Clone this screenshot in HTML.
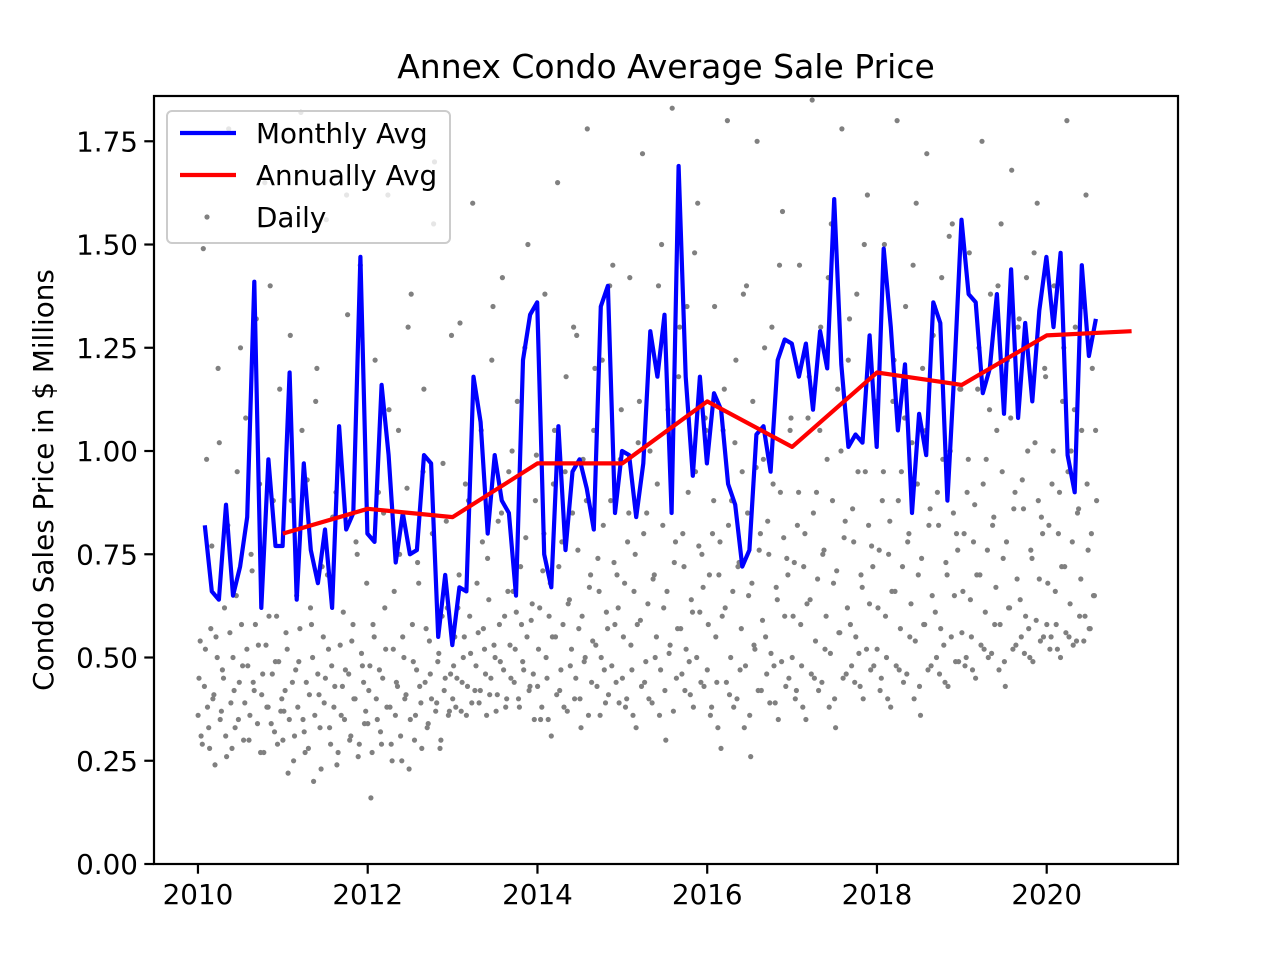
<!DOCTYPE html>
<html><head><meta charset="utf-8"><style>
html,body{margin:0;padding:0;background:#fff;}
svg text{font-family:"DejaVu Sans","Liberation Sans",sans-serif;fill:#000;}
</style></head><body>
<svg id="chart" width="1280" height="960" xmlns="http://www.w3.org/2000/svg">
<rect width="1280" height="960" fill="#fff"/>
<text x="666" y="78" font-size="33" text-anchor="middle">Annex Condo Average Sale Price</text>
<text x="0" y="0" font-size="27.8" text-anchor="middle" transform="translate(53,480) rotate(-90)">Condo Sales Price in $ Millions</text>
<g id="dots"></g>
<g id="lines"></g>
<g id="axes"></g>
<g id="legend">
<rect x="167" y="111" width="283" height="132" rx="5" fill="#fff" fill-opacity="0.8" stroke="#ccc" stroke-width="2"/>
<line x1="180" y1="133" x2="236" y2="133" stroke="#0000ff" stroke-width="4.2"/>
<text x="256" y="143" font-size="27.8">Monthly Avg</text>
<line x1="180" y1="175" x2="236" y2="175" stroke="#ff0000" stroke-width="4.2"/>
<text x="256" y="185" font-size="27.8">Annually Avg</text>
<circle cx="207" cy="217" r="2.6" fill="#808080"/>
<text x="256" y="227" font-size="27.8">Daily</text>
</g>
</svg>
<script>
const monthlyStart = 2010.08;
const monthlyValues = [
0.82,0.66,0.64,0.87,0.65,0.72,0.84,1.41,0.62,0.98,0.77,0.77,
1.19,0.64,0.97,0.76,0.68,0.81,0.62,1.06,0.81,0.85,1.47,0.80,
0.78,1.16,0.99,0.73,0.85,0.75,0.76,0.99,0.97,0.55,0.70,0.53,
0.67,0.66,1.18,1.07,0.80,0.99,0.88,0.85,0.65,1.22,1.33,1.36,
0.75,0.67,1.06,0.76,0.95,0.98,0.91,0.81,1.35,1.40,0.85,1.00,
0.99,0.84,0.97,1.29,1.18,1.33,0.85,1.69,1.18,0.94,1.18,0.97,
1.14,1.10,0.92,0.87,0.72,0.76,1.04,1.06,0.95,1.22,1.27,1.26,
1.18,1.26,1.10,1.29,1.20,1.61,1.21,1.01,1.04,1.02,1.28,1.01,
1.49,1.30,1.05,1.21,0.85,1.09,0.99,1.36,1.31,0.88,1.20,1.56,
1.38,1.36,1.14,1.20,1.38,1.09,1.44,1.08,1.31,1.12,1.34,1.47,
1.30,1.48,0.99,0.90,1.45,1.23,1.32];
const annualYears = [2011,2012,2013,2014,2015,2016,2017,2018,2019,2020,2021];
const annualValues = [0.80,0.86,0.84,0.97,0.97,1.12,1.01,1.19,1.16,1.28,1.29];
const dailyYears = [2010,2011,2012,2013,2014,2015,2016,2017,2018,2019,2020];
const dailySpan = [1,1,1,1,1,1,1,1,1,1,0.6];
const dailyValues = [
[0.45,0.31,1.49,0.52,0.38,0.28,0.77,0.41,0.55,1.20,0.35,0.47,0.62,0.26,1.78,0.39,0.50,0.33,0.95,0.44,0.58,0.30,1.08,0.48,0.36,0.71,0.42,1.32,0.53,0.27,0.46,1.65,0.38,0.60,0.34,0.88,0.49,0.29,1.15,0.40],
[0.37,0.56,0.22,1.28,0.44,0.31,0.65,0.49,1.82,0.35,0.27,0.93,0.41,0.58,0.20,1.12,0.46,0.33,0.72,0.39,1.56,0.52,0.29,0.84,0.43,0.24,1.02,0.36,0.61,0.47,1.33,0.30,0.54,0.40,0.78,0.26,1.45,0.48,0.34,0.68],
[0.42,0.16,0.58,1.22,0.35,0.47,0.29,0.85,0.52,1.62,0.38,0.25,0.66,0.44,1.05,0.31,0.55,0.40,0.91,0.23,1.38,0.49,0.36,0.73,0.43,0.28,1.15,0.57,0.34,0.46,0.80,1.70,0.39,0.51,0.30,0.97,0.45,0.62,0.37,1.28],
[0.48,0.38,0.62,1.31,0.44,0.55,0.36,0.88,0.51,1.60,0.42,0.68,0.39,1.05,0.57,0.46,0.74,0.41,1.22,0.53,0.37,0.83,0.49,1.42,0.60,0.40,0.95,0.45,0.66,0.52,1.12,0.38,0.58,0.47,0.79,1.50,0.43,0.63,0.35,0.99],
[0.52,0.35,0.71,1.38,0.45,0.60,0.31,0.92,0.55,1.65,0.42,0.78,0.38,1.18,0.63,0.48,0.85,0.40,1.28,0.57,0.33,0.98,0.50,1.78,0.67,0.44,1.05,0.53,0.74,0.36,1.22,0.47,0.61,0.41,0.88,1.45,0.58,0.70,0.39,1.10],
[0.55,0.38,0.78,1.42,0.47,0.66,0.33,1.02,0.59,1.72,0.44,0.85,0.40,1.25,0.69,0.50,0.92,0.36,1.50,0.62,0.30,1.10,0.53,1.83,0.73,0.45,1.18,0.57,0.80,0.42,1.35,0.49,0.64,0.38,0.95,1.60,0.61,0.75,0.43,1.05],
[0.58,0.36,0.80,1.35,0.44,0.70,0.28,1.05,0.62,1.80,0.41,0.88,0.38,1.22,0.72,0.47,0.95,0.33,1.40,0.65,0.26,1.12,0.52,1.75,0.76,0.42,0.98,0.55,0.83,0.39,1.30,0.48,0.67,0.35,0.90,1.58,0.60,0.74,0.45,1.08],
[0.60,0.40,0.82,1.45,0.48,0.72,0.35,1.08,0.64,1.85,0.45,0.90,0.42,1.30,0.75,0.52,0.98,0.38,1.55,0.68,0.33,1.15,0.56,1.78,0.79,0.46,1.22,0.58,0.86,0.44,1.38,0.51,0.70,0.40,0.95,1.62,0.63,0.77,0.48,1.12],
[0.62,0.42,0.88,1.50,0.50,0.75,0.38,1.12,0.66,1.80,0.47,0.95,0.44,1.35,0.78,0.55,1.02,0.40,1.60,0.70,0.36,1.20,0.58,1.72,0.82,0.48,1.28,0.61,0.90,0.46,1.42,0.53,0.73,0.43,1.00,1.55,0.65,0.80,0.49,1.15],
[0.66,0.48,0.90,1.48,0.55,0.78,0.45,1.15,0.70,1.75,0.52,0.98,0.50,1.38,0.82,0.58,1.05,0.47,1.55,0.74,0.43,1.22,0.62,1.68,0.86,0.53,1.30,0.64,0.93,0.51,1.42,0.57,0.76,0.49,1.02,1.60,0.69,0.84,0.55,1.18],
[0.68,0.52,0.92,1.40,0.58,0.80,0.50,1.12,0.72,1.80,0.55,1.00,0.53,1.30,0.85,0.60,1.05,0.54,1.62,0.76,0.57,1.20,0.65,0.88]
];
const dailyValuesB = [
[0.36,0.54,0.29,0.43,0.98,0.33,0.57,0.40,0.24,0.50,1.02,0.37,0.45,0.31,0.82,0.56,0.28,0.42,0.65,0.35,1.25,0.48,0.39,0.52,0.30,0.75,0.44,0.58,0.34,0.92,0.41,0.27,0.53,0.38,1.40,0.46,0.32,0.60,0.49,0.37],
[0.30,0.42,0.52,0.35,0.88,0.25,0.47,0.38,0.57,1.05,0.32,0.44,0.28,0.62,0.50,0.36,1.20,0.41,0.23,0.55,0.45,0.70,0.33,0.48,0.38,0.90,0.27,0.53,0.43,0.35,1.62,0.46,0.31,0.58,0.40,0.75,0.29,0.51,0.44,0.37],
[0.34,0.48,0.27,0.55,0.40,0.90,0.32,0.45,0.62,0.38,1.10,0.29,0.52,0.36,0.43,0.75,0.25,0.50,0.41,1.30,0.35,0.58,0.30,0.47,0.68,0.39,0.95,0.44,0.33,0.54,0.40,1.55,0.37,0.49,0.28,0.60,0.42,0.83,0.36,0.46],
[0.40,0.55,0.45,0.70,0.37,0.50,0.92,0.43,0.60,0.39,1.15,0.48,0.56,0.42,0.78,0.52,0.36,0.64,0.45,1.35,0.50,0.41,0.58,0.85,0.47,0.38,0.66,0.53,1.00,0.44,0.61,0.40,0.72,0.49,1.25,0.55,0.42,0.59,0.46,0.88],
[0.43,0.62,0.38,0.80,0.50,0.35,0.68,0.55,1.05,0.41,0.72,0.47,0.58,0.95,0.37,0.64,0.52,1.30,0.45,0.76,0.40,0.60,0.49,0.88,0.36,0.70,0.54,1.20,0.43,0.66,0.50,0.82,0.39,0.57,1.40,0.48,0.73,0.44,0.62,0.98],
[0.45,0.68,0.40,0.85,0.53,0.36,0.75,0.58,1.12,0.43,0.80,0.49,0.63,1.00,0.39,0.70,0.55,1.40,0.47,0.82,0.42,0.66,0.51,0.95,0.37,0.78,0.57,1.30,0.46,0.72,0.52,0.90,0.41,0.61,1.48,0.50,0.77,0.44,0.67,1.08],
[0.47,0.70,0.38,0.88,0.55,0.33,0.78,0.60,1.15,0.44,0.82,0.50,0.66,1.02,0.40,0.73,0.57,1.38,0.48,0.85,0.36,0.68,0.53,0.96,0.42,0.80,0.59,1.25,0.46,0.75,0.51,0.92,0.39,0.64,1.45,0.49,0.79,0.43,0.70,1.05],
[0.50,0.73,0.42,0.90,0.58,0.38,0.80,0.63,1.18,0.46,0.85,0.54,0.69,1.05,0.44,0.76,0.60,1.42,0.51,0.88,0.40,0.71,0.56,1.00,0.45,0.83,0.62,1.32,0.48,0.78,0.55,0.95,0.43,0.67,1.50,0.52,0.82,0.47,0.72,1.10],
[0.52,0.76,0.45,0.95,0.60,0.40,0.83,0.66,1.22,0.48,0.88,0.57,0.72,1.08,0.46,0.80,0.63,1.45,0.54,0.92,0.43,0.74,0.58,1.05,0.47,0.86,0.65,1.35,0.50,0.82,0.57,0.98,0.44,0.70,1.52,0.55,0.85,0.49,0.76,1.15],
[0.56,0.80,0.50,0.98,0.64,0.47,0.87,0.70,1.25,0.53,0.92,0.61,0.76,1.10,0.51,0.84,0.67,1.40,0.58,0.95,0.49,0.78,0.62,1.08,0.52,0.90,0.69,1.32,0.55,0.86,0.60,1.00,0.50,0.74,1.48,0.59,0.88,0.54,0.80,1.20],
[0.58,0.82,0.55,1.00,0.66,0.52,0.90,0.72,1.25,0.56,0.95,0.63,0.78,1.10,0.54,0.86,0.69,1.35,0.60,0.92,0.57,0.80,0.65,1.05]
];
const svgNS="http://www.w3.org/2000/svg";
const X0=154,X1=1178,Y0=96,Y1=864;
const xMin=2009.482,xMax=2021.547,yMin=0,yMax=1.8596;
function xs(v){return X0+(v-xMin)/(xMax-xMin)*(X1-X0);}
function ys(v){return Y1-(v-yMin)/(yMax-yMin)*(Y1-Y0);}
function mk(tag,attrs,parent){const e=document.createElementNS(svgNS,tag);for(const k in attrs)e.setAttribute(k,attrs[k]);parent.appendChild(e);return e;}
const dots=document.getElementById('dots');
function drawDots(set,offset){
set.forEach((arr,yi)=>{arr.forEach((v,i)=>{
  const d=dailyYears[yi]+dailySpan[yi]*(i+offset)/arr.length;
  if(v>yMax)return;
  const c=mk('circle',{cx:xs(d).toFixed(1),cy:ys(v).toFixed(1),r:2.6,fill:'#808080'},dots);
  
  
});});}
drawDots(dailyValues,0.5);
drawDots(dailyValuesB,0.05);
const lines=document.getElementById('lines');
const mPts=monthlyValues.map((v,i)=>xs(monthlyStart+i/12).toFixed(1)+','+ys(v).toFixed(1)).join(' ');
const ml=mk('polyline',{points:mPts,fill:'none',stroke:'#0000ff','stroke-width':4.2,'stroke-linejoin':'round'},lines);


const aPts=annualValues.map((v,i)=>xs(annualYears[i]).toFixed(1)+','+ys(v).toFixed(1)).join(' ');
const al=mk('polyline',{points:aPts,fill:'none',stroke:'#ff0000','stroke-width':4.2,'stroke-linejoin':'round'},lines);


const axes=document.getElementById('axes');
const frame=mk('rect',{x:X0,y:Y0,width:X1-X0,height:Y1-Y0,fill:'none',stroke:'#000','stroke-width':2.2},axes);


const xTicks=[2010,2012,2014,2016,2018,2020];
const yTicks=[0,0.25,0.5,0.75,1.0,1.25,1.5,1.75];
xTicks.forEach(t=>{const x=xs(t);
  const l=mk('line',{x1:x,y1:Y1,x2:x,y2:Y1+9.7,stroke:'#000','stroke-width':2.2},axes);
  
  
  const tx=mk('text',{x:x,y:Y1+40,'font-size':27.8,'text-anchor':'middle'},axes);tx.textContent=t;
  
  
});
yTicks.forEach(t=>{const y=ys(t);
  const l=mk('line',{x1:X0-9.7,y1:y,x2:X0,y2:y,stroke:'#000','stroke-width':2.2},axes);
  
  
  const tx=mk('text',{x:X0-16,y:y+10,'font-size':27.8,'text-anchor':'end'},axes);tx.textContent=t.toFixed(2);
  
  
});
</script>
</body></html>
